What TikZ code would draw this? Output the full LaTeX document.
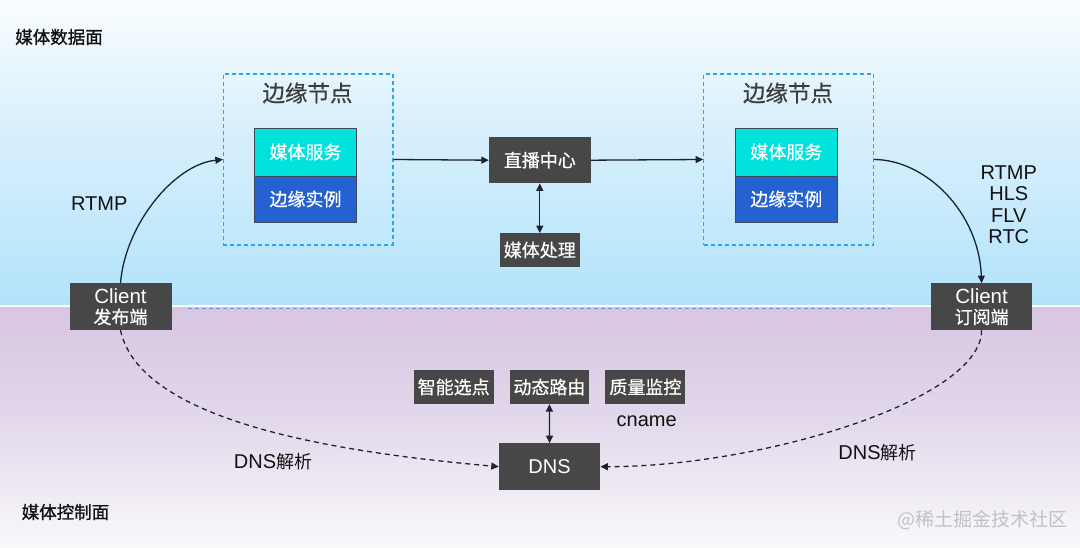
\documentclass[tikz,border=0pt]{standalone}
\usepackage{fontspec}
\setmainfont{Noto Sans CJK SC}
\newfontfamily\lat{Liberation Sans}
\newfontfamily\cjkmed[FakeBold=0.6]{Noto Sans CJK SC}
\newfontfamily\cjksemi[FakeBold=1.1]{Noto Sans CJK SC}
\usetikzlibrary{arrows.meta}
\definecolor{boxdark}{HTML}{474747}
\definecolor{edgeblue}{HTML}{2BA6E9}
\definecolor{svccyan}{HTML}{00E2DC}
\definecolor{instblue}{HTML}{2561D1}
\definecolor{innerline}{HTML}{3E4A5A}
\definecolor{sepblue}{HTML}{6D8FE0}
\definecolor{titlegray}{HTML}{3C3C3C}
\definecolor{topA}{HTML}{FAFDFF}
\definecolor{topB}{HTML}{DAF0FC}
\definecolor{topC}{HTML}{B2E3FB}
\definecolor{botA}{HTML}{D8C6E3}
\definecolor{botB}{HTML}{E2D8EB}
\definecolor{botC}{HTML}{FAF9FB}
\definecolor{wmgray}{HTML}{C2C2C2}
\definecolor{ink}{HTML}{111111}
\definecolor{arrink}{HTML}{1A2430}
\tikzset{
  darkbox/.style={fill=boxdark, text=white, inner sep=0pt, align=center,
    font=\cjkmed\fontsize{18}{20.7}\selectfont},
  edgebox/.style={draw=edgeblue, line width=1.2pt, dash pattern=on 4pt off 3pt,
    minimum width=169.5pt, minimum height=171pt, inner sep=0pt},
  svcbox/.style={fill=svccyan, draw=innerline, line width=0.8pt, text=white,
    minimum width=102pt, minimum height=48pt, inner sep=0pt,
    font=\cjkmed\fontsize{18}{20}\selectfont},
  instbox/.style={fill=instblue, draw=innerline, line width=0.8pt, text=white,
    minimum width=102pt, minimum height=46pt, inner sep=0pt,
    font=\cjkmed\fontsize{18}{20}\selectfont},
  edgetitle/.style={text=titlegray, inner sep=0pt, font=\cjkmed\fontsize{22.5}{24}\selectfont},
  planelbl/.style={text=ink, inner sep=0pt, font=\cjksemi\fontsize{17.5}{20}\selectfont},
  latlbl/.style={text=ink, inner sep=0pt, align=center, font=\lat\fontsize{20}{21.5}\selectfont},
  mixlbl/.style={text=ink, inner sep=0pt, font=\fontsize{18}{20}\selectfont},
  arr/.style={draw=arrink, line width=1.3pt, -{Triangle[length=7.5pt,width=7pt]}},
  darr/.style={draw=arrink, line width=1.3pt, {Triangle[length=7.5pt,width=7pt]}-{Triangle[length=7.5pt,width=7pt]}},
  dasharr/.style={arr, dash pattern=on 5pt off 4pt}
}
\begin{document}
\begin{tikzpicture}[x=1pt,y=-1pt]
\useasboundingbox (0,0) rectangle (1080,548);
% backgrounds
\shade[top color=topA, bottom color=topB] (0,0) rectangle (1080,120.5);
\shade[top color=topB, bottom color=topC] (0,120) rectangle (1080,307);
\shade[top color=botA, bottom color=botB] (0,307) rectangle (1080,420.5);
\shade[top color=botB, bottom color=botC] (0,420) rectangle (1080,548);
\draw[white, line width=2pt] (0,306.5) -- (1080,306.5);
\draw[sepblue, line width=1.4pt, dash pattern=on 4pt off 3pt] (188,308.5) -- (891,308.5);

% plane labels
\node[planelbl] (dataLbl) at (59,37) {媒体数据面};
\node[planelbl] (ctrlLbl) at (65.5,512) {媒体控制面};

% left edge node
\node[edgebox] (edgeL) at (308.2,159.5) {};
\node[edgetitle] (titleL) at (307.5,93) {边缘节点};
\node[svcbox] (svcL) at (305.5,152) {媒体服务};
\node[instbox] (instL) at (305.5,199) {边缘实例};

% right edge node
\node[edgebox] (edgeR) at (788.5,159.5) {};
\node[edgetitle] (titleR) at (788,93) {边缘节点};
\node[svcbox] (svcR) at (786.3,152) {媒体服务};
\node[instbox] (instR) at (786.3,199) {边缘实例};

% center
\node[darkbox, minimum width=101.6pt, minimum height=46pt] (live) at (539.8,160.2) {直播中心};
\node[darkbox, minimum width=79.6pt, minimum height=33.4pt] (proc) at (539.8,250) {媒体处理};

% clients
\node[darkbox, minimum width=102pt, minimum height=46.7pt] (pubC) at (120.5,306.7)
  {{\lat\fontsize{20.5}{20.7}\selectfont Client}\\发布端};
\node[darkbox, minimum width=101.6pt, minimum height=46.7pt] (subC) at (981.6,306.7)
  {{\lat\fontsize{20.5}{20.7}\selectfont Client}\\订阅端};

% control plane boxes
\node[darkbox, minimum width=79.6pt, minimum height=34pt] (sel) at (453.7,387) {智能选点};
\node[darkbox, minimum width=79.6pt, minimum height=34pt] (route) at (549.4,387) {动态路由};
\node[darkbox, minimum width=79.9pt, minimum height=34pt] (qual) at (645.4,387) {质量监控};
\node[darkbox, minimum width=101.3pt, minimum height=46.7pt, font=\lat\fontsize{20}{20}\selectfont] (dns) at (549.6,466.7) {DNS};

% labels
\node[latlbl] (rtmpL) at (99.3,204) {RTMP};
\node[latlbl] (protoR) at (1008.8,204.5) {RTMP\\HLS\\FLV\\RTC};
\node[latlbl] (cname) at (646.7,421.7) {cname};
\node[mixlbl] (dnsL) at (273,462) {{\lat\fontsize{20}{20}\selectfont DNS}解析};
\node[mixlbl] (dnsR) at (877.5,452.7) {{\lat\fontsize{20}{20}\selectfont DNS}解析};
\node[text=wmgray, inner sep=0pt, font=\fontsize{19}{20}\selectfont] (wm) at (982.5,520) {@稀土掘金技术社区};

% connectors
\draw[arr] (pubC.north) .. controls +(4.5,-58) and +(-49,5) .. (edgeL.west);
\draw[arr] (edgeL.east) -- (live.west);
\draw[arr] (live.east) -- (edgeR.west);
\draw[darr] (live.south) -- (proc.north);
\draw[arr] (edgeR.east) .. controls +(51.7,0) and +(-2.6,-71) .. (subC.north);
\draw[darr] (route.south) -- (dns.north);
\draw[dasharr] (pubC.south) .. controls +(19.5,90) and +(-169,-15) .. (dns.west);
\draw[dasharr] (subC.south) .. controls +(0,70) and +(160,0) .. (dns.east);
\end{tikzpicture}
\end{document}
